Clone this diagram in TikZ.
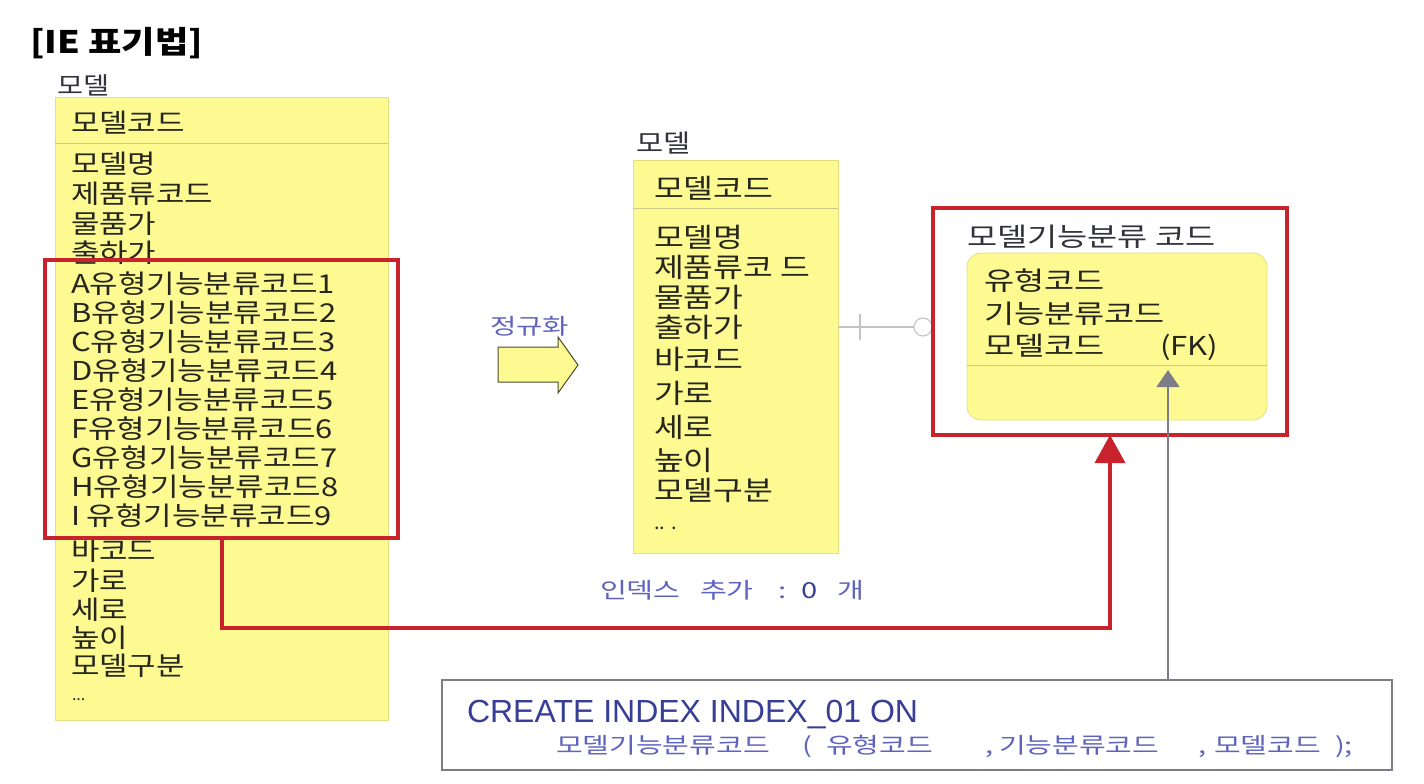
\documentclass[tikz,border=0pt]{standalone}
\usepackage{fontspec}
\setmainfont{Noto Sans CJK KR}
\newfontfamily\arialf{Liberation Sans}
\usetikzlibrary{arrows.meta}
\definecolor{ery}{RGB}{252,250,145}
\definecolor{eryb}{RGB}{228,224,130}
\definecolor{sepc}{RGB}{205,200,140}
\definecolor{redc}{RGB}{200,35,45}
\definecolor{bluet}{RGB}{55,62,150}
\definecolor{bluel}{RGB}{95,100,190}
\definecolor{grayl}{RGB}{195,195,195}
\definecolor{graya}{RGB}{125,125,135}
\definecolor{txt}{RGB}{38,38,30}
\definecolor{lbl}{RGB}{50,50,60}
\begin{document}
\begin{tikzpicture}[x=1pt,y=-1pt,
  every node/.style={inner sep=0pt, outer sep=0pt},
  ybox/.style={fill=ery, draw=eryb, line width=0.8pt, anchor=north west},
  sepline/.style={draw=sepc, line width=0.8pt},
  redbox/.style={draw=redc, line width=3.2pt, anchor=north west},
  redline/.style={draw=redc, line width=3.6pt, -{Triangle[length=28pt,width=30pt]}},
  rel/.style={draw=grayl, line width=1.1pt},
  grayarrow/.style={draw=graya, line width=1.3pt, -{Triangle[length=17pt,width=23pt]}},
  attrL/.style={anchor=west, text=txt, font=\fontsize{26}{26}\selectfont, xscale=1.19, text height=23pt, text depth=3pt},
  attrM/.style={anchor=west, text=txt, font=\fontsize{27}{27}\selectfont, xscale=1.2, text height=24pt, text depth=3pt},
  attrR/.style={anchor=west, text=txt, font=\fontsize{26}{26}\selectfont, xscale=1.26, text height=23pt, text depth=3pt},
  elabel/.style={anchor=west, text=lbl, font=\fontsize{24}{24}\selectfont, xscale=1.18, text height=21pt, text depth=3pt},
  idx/.style={anchor=west, text=bluel, font=\fontsize{22}{22}\selectfont, xscale=1.33, text height=19pt, text depth=3pt},
  sqk/.style={anchor=west, text=bluel, font=\fontsize{22}{22}\selectfont, xscale=1.32, text height=19pt, text depth=3pt},
]
\useasboundingbox (0,0) rectangle (1424,784);
\fill[white] (0,0) rectangle (1424,784);

% title
\node[anchor=west, text=black, font=\fontsize{31}{31}\selectfont\bfseries, xscale=1.17, text height=26pt, text depth=4pt] (title) at (30,42) {[IE 표기법]};

% ---------- left entity ----------
\node[elabel] (labA) at (57,85) {모델};
\node[ybox, minimum width=333pt, minimum height=623pt] (modelA) at (55,97) {};
\coordinate (sA) at (0,143);
\draw[sepline] (modelA.west |- sA) -- (modelA.east |- sA);
\node[attrL] (pkA) at (71,122) {모델코드};
\foreach \y/\t [count=\i] in {163/모델명, 193/제품류코드, 223/물품가, 252/출하가,
  283/A유형기능분류코드1, 312/B유형기능분류코드2, 341/C유형기능분류코드3,
  370/D유형기능분류코드4, 399/E유형기능분류코드5, 428/F유형기능분류코드6,
  457/G유형기능분류코드7, 486/H유형기능분류코드8, 515/I 유형기능분류코드9,
  550/바코드, 580/가로, 609/세로, 637/높이, 665/모델구분}
  \node[attrL] (la\i) at (71,\y) {\t};
\node[anchor=west, text=txt, font=\fontsize{16}{16}\selectfont] (dotsA) at (72,700) {...};

% red selection on left entity
\node[redbox, minimum width=353pt, minimum height=278pt] (selA) at (45,260) {};

% ---------- normalisation arrow ----------
\node[idx, xscale=0.98] (norm) at (490,326) {정규화};
\draw[draw=black!60!olive, fill=ery, line width=1pt]
  (498,347) -- (558,347) -- (558,337) -- (578,365) -- (558,393) -- (558,382) -- (498,382) -- cycle;

% ---------- middle entity ----------
\node[elabel, font=\fontsize{25}{25}\selectfont] (labB) at (636,143) {모델};
\node[ybox, minimum width=205pt, minimum height=393pt] (modelB) at (633,160) {};
\coordinate (sB) at (0,208);
\draw[sepline] (modelB.west |- sB) -- (modelB.east |- sB);
\node[attrM] (pkB) at (654,188) {모델코드};
\foreach \y/\t [count=\i] in {237/모델명, 267/제품류코 드, 297/물품가, 327/출하가,
  359/바코드, 393/가로, 427/세로, 460/높이, 490/모델구분}
  \node[attrM] (mb\i) at (654,\y) {\t};
\node[anchor=west, text=txt, font=\fontsize{20}{20}\selectfont] (dotsB) at (654,528) {.. .};

% index note
\node[idx] (ix1) at (600,590) {인덱스};
\node[idx] (ix2) at (700,590) {추가};
\node[idx] (ix3) at (778,590) {:};
\node[idx, text=bluet] (ix4) at (801,590) {0};
\node[idx] (ix5) at (837,590) {개};

% ---------- right entity ----------
\node[redbox, minimum width=354pt, minimum height=227pt] (selB) at (933,208) {};
\node[attrR, text=lbl] (labC) at (967,236) {모델기능분류 코드};
\node[ybox, rounded corners=14pt, minimum width=300pt, minimum height=167pt] (mfc) at (967,253) {};
\coordinate (sC) at (0,365);
\draw[sepline] (mfc.west |- sC) -- (mfc.east |- sC);
\node[attrR] (rc1) at (984,280) {유형코드};
\node[attrR] (rc2) at (984,313) {기능분류코드};
\node[attrR] (rc3) at (984,345) {모델코드};
\node[attrR, xscale=0.95] (rc4) at (1160,345) {(FK)};

% relationship line between middle and right entity
\coordinate (relY) at (0,327);
\draw[rel] (modelB.east |- relY) -- (selB.west |- relY);
\coordinate (tick) at (860,327);
\draw[rel] ([yshift=-13pt]tick) -- ([yshift=13pt]tick);
\draw[rel, fill=white] (923,327) circle (9pt);
\draw[redc, line width=3.2pt] (933,300) -- (933,355);

% red connector
\coordinate (r1) at (222,628);
\coordinate (r2) at (1110,628);
\draw[redline] (selA.south -| r1) -- (r1) -- (r2) -- (selB.south -| r2);

% ---------- SQL box ----------
\node[draw=graya, fill=white, line width=1.5pt, anchor=north west, minimum width=950pt, minimum height=90pt] (sql) at (442,680) {};
\node[anchor=west, text=bluet, font=\arialf\fontsize{32}{32}\selectfont, text height=23pt, text depth=1pt] (sq1) at (467,711) {CREATE INDEX INDEX\_01 ON};
\node[sqk] (sq2) at (556,745) {모델기능분류코드};
\node[sqk] (sq3) at (802,745) {(};
\node[sqk] (sq4) at (826,745) {유형코드};
\node[sqk] (sq5) at (985,745) {,};
\node[sqk] (sq6) at (999,745) {기능분류코드};
\node[sqk] (sq7) at (1198,745) {,};
\node[sqk] (sq8) at (1214,745) {모델코드};
\node[sqk] (sq9) at (1335,745) {);};

% FK index arrow
\coordinate (g1) at (1168,370);
\draw[grayarrow] (sql.north -| g1) -- (g1);
\end{tikzpicture}
\end{document}
